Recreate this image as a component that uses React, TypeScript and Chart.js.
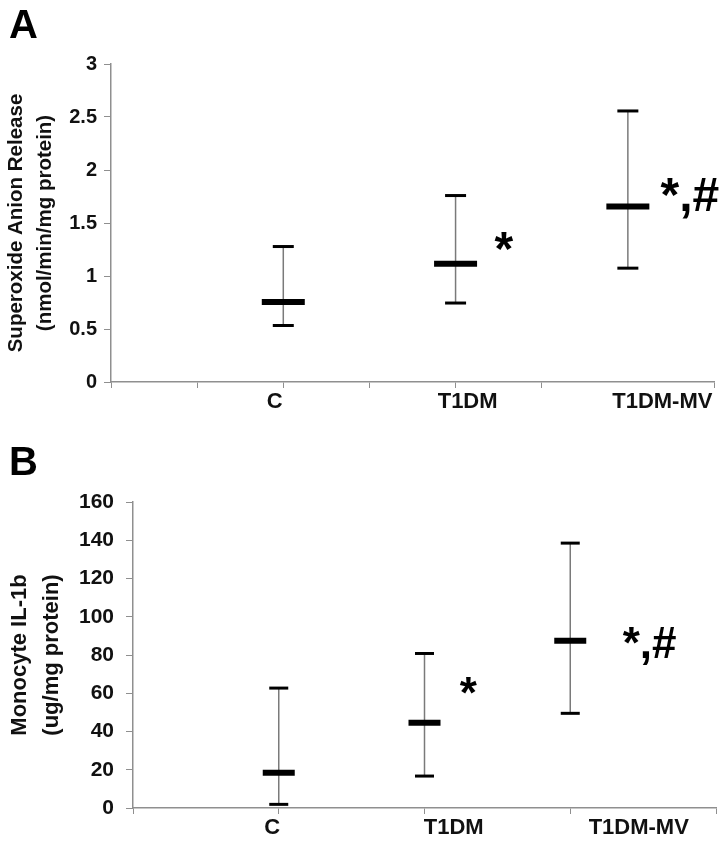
import { useEffect, useRef } from 'react';
import { Chart, registerables } from 'chart.js';
Chart.register(...registerables);

const FONT = '"Liberation Sans", Arial, Helvetica, sans-serif';
const AXIS_GRAY = '#8f8f8f';

// ---------- Panel A ----------
const categoriesA = ['C', 'T1DM', 'T1DM-MV'];
const xPosA = [2, 4, 6];
const meanA = [0.754, 1.115, 1.655];
const upperA = [1.278, 1.759, 2.557];
const lowerA = [0.533, 0.745, 1.074];
const labelPosA = [1.9, 4.14, 6.4];
const xTickMarksA = [0, 1, 2, 3, 4, 5, 7];
const annotTextA = ['*', '*,#'];
const annotXA = [4.56, 6.38];
const annotYA = [1.1, 1.61];
const annotAlignA = ['center', 'left'];
const titleA = ['Superoxide Anion Release', '(nmol/min/mg protein)'];

// ---------- Panel B ----------
const categoriesB = ['C', 'T1DM', 'T1DM-MV'];
const xPosB = [1, 2, 3];
const meanB = [18.4, 44.6, 87.4];
const upperB = [62.7, 80.8, 138.5];
const lowerB = [1.9, 16.7, 49.5];
const labelPosB = [0.955, 2.2, 3.47];
const xTickMarksB = [0, 1, 2, 3, 4];
const annotTextB = ['*', '*,#'];
const annotXB = [2.3, 3.36];
const annotYB = [52.2, 78.4];
const annotAlignB = ['center', 'left'];
const titleB = ['Monocyte IL-1b', '(ug/mg protein)'];

type Panel = {
  letter: string;
  letterSize: number;
  letterBaseline: number;
  width: number;
  height: number;
  categories: string[];
  xPos: number[];
  mean: number[];
  upper: number[];
  lower: number[];
  labelPos: number[];
  xTickMarks: number[];
  xMax: number;
  yMax: number;
  yStep: number;
  annotText: string[];
  annotX: number[];
  annotY: number[];
  annotAlign: string[];
  annotSize: number;
  title: string[];
  titleSize: number;
  titleLineHeight: number;
  titlePad: number;
  tickSize: number;
  tickPad: number;
  xLabelSize: number;
  yAxisWidth: number;
  xAxisHeight: number;
  padTop: number;
  padRight: number;
  meanRadius: number;
  capRadius: number;
};

const panelA: Panel = {
  letter: 'A', letterSize: 40, letterBaseline: 38,
  width: 726, height: 420,
  categories: categoriesA, xPos: xPosA, mean: meanA, upper: upperA, lower: lowerA,
  labelPos: labelPosA, xTickMarks: xTickMarksA, xMax: 7, yMax: 3, yStep: 0.5,
  annotText: annotTextA, annotX: annotXA, annotY: annotYA, annotAlign: annotAlignA, annotSize: 48,
  title: titleA, titleSize: 20.5, titleLineHeight: 1.42, titlePad: 2,
  tickSize: 20, tickPad: 7, xLabelSize: 22,
  yAxisWidth: 111, xAxisHeight: 38, padTop: 64, padRight: 12,
  meanRadius: 21.5, capRadius: 10.5,
};

const panelB: Panel = {
  letter: 'B', letterSize: 40, letterBaseline: 55,
  width: 726, height: 428,
  categories: categoriesB, xPos: xPosB, mean: meanB, upper: upperB, lower: lowerB,
  labelPos: labelPosB, xTickMarks: xTickMarksB, xMax: 4, yMax: 160, yStep: 20,
  annotText: annotTextB, annotX: annotXB, annotY: annotYB, annotAlign: annotAlignB, annotSize: 44,
  title: titleB, titleSize: 22, titleLineHeight: 1.45, titlePad: 4,
  tickSize: 21, tickPad: 12, xLabelSize: 22,
  yAxisWidth: 133, xAxisHeight: 40, padTop: 82, padRight: 10,
  meanRadius: 16, capRadius: 9.5,
};

function makeChart(canvas: HTMLCanvasElement, p: Panel) {
  const isLabelTick = (v: number) => p.labelPos.some((l) => Math.abs(l - v) < 1e-9);

  const whiskerPlugin = {
    id: 'whiskers',
    beforeDatasetsDraw(chart: any) {
      const { ctx, scales } = chart;
      ctx.save();
      ctx.strokeStyle = '#7a7a7a';
      ctx.lineWidth = 1.5;
      p.xPos.forEach((x, i) => {
        const px = scales.x.getPixelForValue(x);
        ctx.beginPath();
        ctx.moveTo(px, scales.y.getPixelForValue(p.lower[i]));
        ctx.lineTo(px, scales.y.getPixelForValue(p.upper[i]));
        ctx.stroke();
      });
      ctx.restore();
    },
    afterDraw(chart: any) {
      const { ctx, scales } = chart;
      ctx.save();
      ctx.fillStyle = '#000';
      ctx.textBaseline = 'alphabetic';
      ctx.font = `bold ${p.annotSize}px ${FONT}`;
      p.annotText.forEach((t, i) => {
        ctx.textAlign = p.annotAlign[i];
        ctx.fillText(t, scales.x.getPixelForValue(p.annotX[i]), scales.y.getPixelForValue(p.annotY[i]));
      });
      ctx.font = `bold ${p.letterSize}px ${FONT}`;
      ctx.textAlign = 'left';
      ctx.fillText(p.letter, 9, p.letterBaseline);
      ctx.restore();
    },
  };

  const pts = (vals: number[]) => p.xPos.map((x, i) => ({ x, y: vals[i] }));

  return new Chart(canvas, {
    type: 'scatter',
    data: {
      datasets: [
        {
          data: pts(p.mean),
          pointStyle: 'line',
          pointRadius: p.meanRadius,
          pointBorderWidth: 6,
          pointBorderColor: '#000',
          pointBackgroundColor: '#000',
          showLine: false,
          clip: false,
        },
        {
          data: pts(p.upper),
          pointStyle: 'line',
          pointRadius: p.capRadius,
          pointBorderWidth: 3,
          pointBorderColor: '#000',
          showLine: false,
          clip: false,
        },
        {
          data: pts(p.lower),
          pointStyle: 'line',
          pointRadius: p.capRadius,
          pointBorderWidth: 3,
          pointBorderColor: '#000',
          showLine: false,
          clip: false,
        },
      ],
    },
    options: {
      animation: false,
      responsive: false,
      events: [],
      layout: { autoPadding: false, padding: { top: p.padTop, right: p.padRight, left: 0, bottom: 0 } },
      plugins: { legend: { display: false }, tooltip: { enabled: false } },
      scales: {
        x: {
          type: 'linear',
          min: 0,
          max: p.xMax,
          afterBuildTicks: (scale: any) => {
            const vals = [...p.xTickMarks, ...p.labelPos].sort((a, b) => a - b);
            scale.ticks = vals.map((v) => ({ value: v }));
          },
          afterFit: (scale: any) => {
            scale.height = p.xAxisHeight;
          },
          border: { display: true, color: AXIS_GRAY, width: 1.5 },
          grid: {
            drawOnChartArea: false,
            drawTicks: true,
            tickLength: 6,
            tickColor: (ctx: any) => (ctx.tick && isLabelTick(ctx.tick.value) ? 'rgba(0,0,0,0)' : AXIS_GRAY),
            tickWidth: 1,
          },
          ticks: {
            autoSkip: false,
            maxRotation: 0,
            minRotation: 0,
            padding: 1,
            color: '#111',
            font: { family: FONT, size: p.xLabelSize, weight: 'bold' },
            callback: (v: any) => {
              const idx = p.labelPos.findIndex((l) => Math.abs(l - Number(v)) < 1e-9);
              return idx >= 0 ? p.categories[idx] : '';
            },
          },
        },
        y: {
          type: 'linear',
          min: 0,
          max: p.yMax,
          afterFit: (scale: any) => {
            scale.width = p.yAxisWidth;
          },
          border: { display: true, color: AXIS_GRAY, width: 1.5 },
          grid: { drawOnChartArea: false, drawTicks: true, tickLength: 7, tickColor: AXIS_GRAY },
          ticks: {
            stepSize: p.yStep,
            padding: p.tickPad,
            color: '#111',
            font: { family: FONT, size: p.tickSize, weight: 'bold' },
            callback: (v: any) => String(Number(v)),
          },
          title: {
            display: true,
            text: p.title,
            color: '#111',
            padding: { top: p.titlePad, bottom: 0 },
            font: { family: FONT, size: p.titleSize, weight: 'bold', lineHeight: p.titleLineHeight },
          },
        },
      },
    } as any,
    plugins: [whiskerPlugin],
  });
}

function PanelChart({ panel, top }: { panel: Panel; top: number }) {
  const ref = useRef<HTMLCanvasElement | null>(null);
  useEffect(() => {
    if (!ref.current) return;
    const chart = makeChart(ref.current, panel);
    return () => chart.destroy();
  }, [panel]);
  return (
    <canvas
      ref={ref}
      width={panel.width}
      height={panel.height}
      style={{ position: 'absolute', left: 0, top, width: panel.width, height: panel.height, display: 'block' }}
    />
  );
}

export default function App() {
  return (
    <div style={{ position: 'absolute', left: 0, top: 0, width: 726, height: 848, background: '#fff', overflow: 'hidden' }}>
      <PanelChart panel={panelA} top={0} />
      <PanelChart panel={panelB} top={420} />
    </div>
  );
}
